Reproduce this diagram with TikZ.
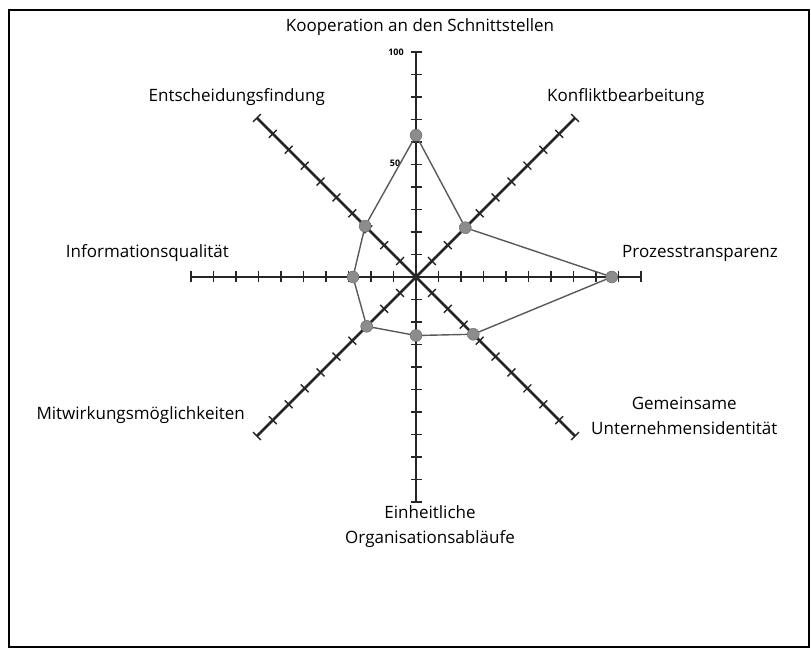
\documentclass[tikz,border=0pt]{standalone}
\usepackage{fontspec}
\setmainfont{Open Sans}
\usetikzlibrary{positioning}
\tikzset{
  axisline/.style={line width=2.8pt, black!85},
  tickline/.style={line width=1.4pt, black!85},
  dataline/.style={line width=1.4pt, black!65},
  datadot/.style={circle, fill=black!45, draw=black!60, inner sep=0pt, minimum size=12pt},
  axislabel/.style={font=\fontsize{17}{25}\selectfont, align=center, inner sep=1pt},
  scalelabel/.style={font=\fontsize{9}{10}\selectfont\bfseries, inner sep=0pt},
}
\begin{document}
\begin{tikzpicture}[x=1pt,y=1pt]
\useasboundingbox (0,0) rectangle (811,654);
\draw[line width=1.8pt] (9,7) rectangle (809,644);

\coordinate (c) at (416,377);

\foreach \a/\n in {90/1,45/2,0/3,-45/4,-90/5,-135/6,180/7,135/8}{
  \draw[axisline] (c) -- ++(\a:225) coordinate (e\n);
  \foreach \r in {1,...,10}
    \draw[tickline] (c) ++(\a:22.5*\r) ++(\a+90:5.5) -- ++(\a-90:11);
}

\node[scalelabel] (s100) at (396,602) {100};
\node[scalelabel] (s50) at (395,491) {50};

\foreach \a/\v/\n in {90/63/1,45/31/2,0/87/3,-45/36/4,-90/26/5,-135/31/6,180/28/7,135/32/8}
  \node[datadot] (p\n) at ([shift={(\a:2.25*\v)}]c) {};
\draw[dataline] (p1) -- (p2) -- (p3) -- (p4) -- (p5) -- (p6) -- (p7) -- (p8) -- (p1);

\node[axislabel] (l1) at (420,627) {Kooperation an den Schnittstellen};
\node[axislabel, anchor=west] (l2) at (546,557) {Konfliktbearbeitung};
\node[axislabel, anchor=west] (l3) at (621,401) {Prozesstransparenz};
\node[axislabel, anchor=west] (l4) at (590,238) {Gemeinsame\\Unternehmensidentität};
\node[axislabel] (l5) at (430,127) {Einheitliche\\Organisationsabläufe};
\node[axislabel, anchor=east] (l6) at (246,239) {Mitwirkungsmöglichkeiten};
\node[axislabel, anchor=east] (l7) at (230,401) {Informationsqualität};
\node[axislabel, anchor=east] (l8) at (326,557) {Entscheidungsfindung};
\end{tikzpicture}
\end{document}
